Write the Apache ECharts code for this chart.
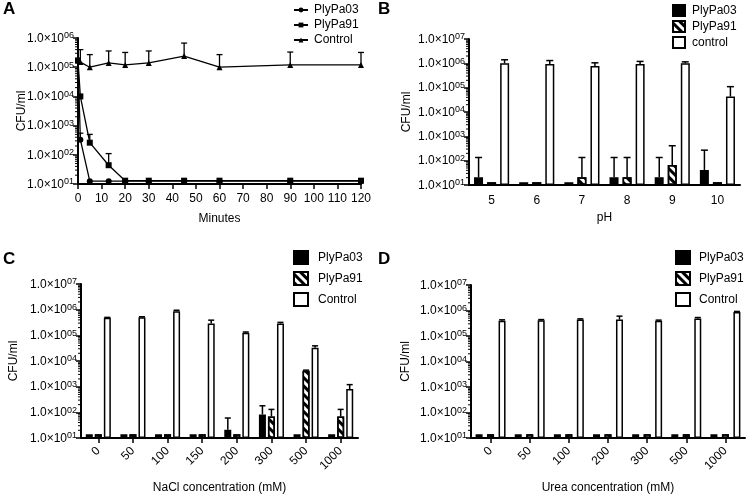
<!DOCTYPE html>
<html style="height: 100%">
<head>
    <meta charset="utf-8">
</head>
<body style="height: 100%; margin: 0; background: #fff">
    <div id="chartA" style="position:absolute; left:0; top:0; width:375px; height:250px"></div>
    <div id="chartB" style="position:absolute; left:375px; top:0; width:375px; height:250px"></div>
    <div id="chartC" style="position:absolute; left:0; top:250px; width:375px; height:249px"></div>
    <div id="chartD" style="position:absolute; left:375px; top:250px; width:375px; height:249px"></div>
    <script type="text/javascript" src="https://cdn.jsdelivr.net/npm/echarts@6/dist/echarts.min.js"></script>
    <script type="text/javascript">
        // A: time course
        var minutes = [0, 1, 5, 13, 20, 30, 45, 60, 90, 120];
        var aPlyPa03 = [1.7e5, 330, 12.5, 12.5, 12.5, 12.5, 12.5, 12.5, 12.5, 12.5];
        var aPlyPa03Err = [null, 550, null, null, null, null, null, null, null, null];
        var aPlyPa91 = [1.7e5, 1.0e4, 260, 44, 13, 13, 13, 13, 13, 13];
        var aPlyPa91Err = [null, null, 500, 110, null, null, null, null, null, null];
        var aControl = [1.7e5, 1.5e5, 1.0e5, 1.4e5, 1.2e5, 1.4e5, 2.4e5, 1.0e5, 1.2e5, 1.2e5];
        var aControlErr = [null, 4.0e5, 2.7e5, 3.6e5, 3.2e5, 3.6e5, 6.7e5, 2.7e5, 3.3e5, 3.2e5];

        // B: pH
        var phCats = ['5', '6', '7', '8', '9', '10'];
        var bPlyPa03 = [21, 13, 13, 21, 21, 41];
        var bPlyPa03Err = [135, null, null, 135, 135, 270];
        var bPlyPa91 = [13, 13, 21, 21, 66, 13];
        var bPlyPa91Err = [null, null, 135, 135, 410, null];
        var bControl = [1.0e6, 9.4e5, 7.7e5, 9.4e5, 1.0e6, 4.3e4];
        var bControlErr = [1.4e6, 1.3e6, 1.05e6, 1.2e6, 1.15e6, 1.1e5];

        // C: NaCl
        var naclCats = ['0', '50', '100', '150', '200', '300', '500', '1000'];
        var cPlyPa03 = [14, 14, 14, 14, 21, 83, 14, 14];
        var cPlyPa03Err = [null, null, null, null, 60, 180, null, null];
        var cPlyPa91 = [14, 14, 14, 14, 14, 69, 4200, 69];
        var cPlyPa91Err = [null, null, null, null, null, 130, 4400, 130];
        var cControl = [4.8e5, 5.1e5, 8.7e5, 2.9e5, 1.26e5, 2.9e5, 3.3e4, 810];
        var cControlErr = [5.0e5, 5.3e5, 9.5e5, 3.9e5, 1.35e5, 3.2e5, 3.9e4, 1200];

        // D: urea
        var ureaCats = ['0', '50', '100', '200', '300', '500', '1000'];
        var dPlyPa03 = [14, 14, 14, 14, 14, 14, 14];
        var dPlyPa91 = [14, 14, 14, 14, 14, 14, 14];
        var dControl = [4.0e5, 4.1e5, 4.4e5, 4.4e5, 4.0e5, 4.9e5, 8.7e5];
        var dControlErr = [4.3e5, 4.4e5, 4.7e5, 6.0e5, 4.2e5, 5.3e5, 9.2e5];

        var FONT = '"Liberation Sans", Arial, Helvetica, sans-serif';

        function expLabel(v) {
            var e = Math.round(Math.log(v) / Math.LN10);
            return '{m|1.0×10}{s|' + (e < 10 ? '0' : '') + e + '}';
        }

        var labelRich = {
            m: { fontSize: 12, fontFamily: FONT, color: '#000', lineHeight: 13, padding: [6, 0, 0, 0], verticalAlign: 'bottom' },
            s: { fontSize: 9, fontFamily: FONT, color: '#000', lineHeight: 10, verticalAlign: 'top' }
        };

        function minorValues(lo, hi) {
            var out = [];
            for (var e = lo; e < hi; e++) {
                for (var m = 2; m <= 9; m++) out.push([0, m * Math.pow(10, e)]);
            }
            return out;
        }

        function minorTickSeries(lo, hi) {
            return {
                type: 'custom',
                silent: true,
                data: minorValues(lo, hi),
                renderItem: function (params, api) {
                    var p = api.coord([api.value(0), api.value(1)]);
                    var x0 = params.coordSys.x;
                    return {
                        type: 'line',
                        shape: { x1: x0 - 3, y1: p[1], x2: x0, y2: p[1] },
                        style: { stroke: '#000', lineWidth: 1 }
                    };
                }
            };
        }

        function logAxis(maxVal, nameGap) {
            return {
                type: 'log',
                logBase: 10,
                min: 10,
                max: maxVal,
                interval: 1,
                startValue: 10,
                axisLine: { show: true, lineStyle: { color: '#000', width: 2 } },
                axisTick: { show: true, length: 5, lineStyle: { color: '#000', width: 1.5 } },
                splitLine: { show: false },
                axisLabel: { formatter: expLabel, rich: labelRich, margin: 4 },
                name: 'CFU/ml',
                nameLocation: 'middle',
                nameGap: nameGap,
                nameMoveOverlap: false,
                nameTextStyle: { fontSize: 12, fontFamily: FONT, color: '#000' }
            };
        }

        function panelTitle(letter) {
            return {
                text: letter, left: 3, top: 1, padding: 0,
                textStyle: { fontSize: 17, fontWeight: 'bold', fontFamily: FONT, color: '#000' }
            };
        }

        // upward error bars for the line chart
        function lineErrSeries(xs, vals, errs) {
            var d = [];
            for (var i = 0; i < xs.length; i++) {
                if (errs[i] != null) d.push([xs[i], vals[i], errs[i]]);
            }
            return {
                type: 'custom', silent: true, data: d, z: 1,
                renderItem: function (params, api) {
                    var a = api.coord([api.value(0), api.value(1)]);
                    var b = api.coord([api.value(0), api.value(2)]);
                    return {
                        type: 'group', children: [
                            { type: 'line', shape: { x1: a[0], y1: a[1], x2: a[0], y2: b[1] }, style: { stroke: '#000', lineWidth: 1.3 } },
                            { type: 'line', shape: { x1: a[0] - 3, y1: b[1], x2: a[0] + 3, y2: b[1] }, style: { stroke: '#000', lineWidth: 1.3 } }
                        ]
                    };
                }
            };
        }

        // upward error bars for grouped bars; slot -1/0/1, step in px
        function barErrSeries(vals, errs, slot, step, cap) {
            var d = [];
            for (var i = 0; i < vals.length; i++) {
                if (errs[i] != null) d.push([i, vals[i], errs[i]]);
            }
            return {
                type: 'custom', silent: true, data: d, z: 3,
                renderItem: function (params, api) {
                    var a = api.coord([api.value(0), api.value(1)]);
                    var b = api.coord([api.value(0), api.value(2)]);
                    var cx = a[0] + slot * step;
                    return {
                        type: 'group', children: [
                            { type: 'line', shape: { x1: cx, y1: a[1], x2: cx, y2: b[1] }, style: { stroke: '#000', lineWidth: 1.5 } },
                            { type: 'line', shape: { x1: cx - cap, y1: b[1], x2: cx + cap, y2: b[1] }, style: { stroke: '#000', lineWidth: 1.5 } }
                        ]
                    };
                }
            };
        }

        var hatch = {
            symbol: 'rect', symbolSize: 1, color: '#000',
            dashArrayX: [1, 0], dashArrayY: [2.5, 2.5], rotation: Math.PI / 4
        };

        function barSeries(name, vals, kind, width, gap) {
            var style = { color: '#fff', borderColor: '#000', borderWidth: 1.5 };
            if (kind === 'solid') style.color = '#000';
            if (kind === 'hatch') style.decal = hatch;
            return {
                type: 'bar', name: name, data: vals, barWidth: width, barGap: gap,
                itemStyle: style, z: 2
            };
        }

        function barLegend(names, left, top, gap, size, textPad) {
            return {
                orient: 'vertical', left: left, top: top, itemGap: gap, padding: 0,
                itemWidth: size, itemHeight: size - 1, icon: 'rect',
                textStyle: { fontSize: 12, fontFamily: FONT, color: '#000', padding: [0, 0, 0, textPad] },
                data: names
            };
        }

        function catAxis(cats, rotate, margin, name, nameGap, showTick) {
            return {
                type: 'category', data: cats,
                axisLine: { show: true, lineStyle: { color: '#000', width: 2 } },
                axisTick: { show: showTick, alignWithLabel: true, length: 5, lineStyle: { color: '#000', width: 1.5 } },
                axisLabel: { rotate: rotate, fontSize: 12, fontFamily: FONT, color: '#000', margin: margin },
                name: name, nameLocation: 'middle', nameGap: nameGap, nameMoveOverlap: false,
                nameTextStyle: { fontSize: 12, fontFamily: FONT, color: '#000' }
            };
        }

        function pairs(xs, ys) {
            return xs.map(function (x, i) { return [x, ys[i]]; });
        }

        // ---------- A ----------
        var chartA = echarts.init(document.getElementById('chartA'));
        var lineStyle = { color: '#000', width: 1.3 };
        chartA.setOption({
            animation: false,
            title: panelTitle('A'),
            legend: {
                orient: 'vertical', left: 293, top: 4, itemGap: 3, padding: 0,
                itemWidth: 14, itemHeight: 6,
                textStyle: { fontSize: 12, fontFamily: FONT, color: '#000', padding: [0, 0, 0, 1] },
                data: ['PlyPa03', 'PlyPa91', 'Control']
            },
            grid: { left: 78, top: 38, width: 283, height: 146 },
            xAxis: {
                type: 'value', min: 0, max: 120, interval: 10,
                axisLine: { show: true, onZero: false, lineStyle: { color: '#000', width: 2 } },
                axisTick: { show: true, length: 5, lineStyle: { color: '#000', width: 1.5 } },
                splitLine: { show: false },
                axisLabel: { fontSize: 12, fontFamily: FONT, color: '#000', margin: 9 },
                name: 'Minutes', nameLocation: 'middle', nameGap: 29, nameMoveOverlap: false,
                nameTextStyle: { fontSize: 12, fontFamily: FONT, color: '#000' }
            },
            yAxis: logAxis(1e6, 50),
            series: [
                { type: 'line', name: 'PlyPa03', data: pairs(minutes, aPlyPa03), symbol: 'circle', symbolSize: 6,
                  lineStyle: lineStyle, itemStyle: { color: '#000' }, z: 3 },
                { type: 'line', name: 'PlyPa91', data: pairs(minutes, aPlyPa91), symbol: 'rect', symbolSize: 6,
                  lineStyle: lineStyle, itemStyle: { color: '#000' }, z: 3 },
                { type: 'line', name: 'Control', data: pairs(minutes, aControl), symbol: 'triangle', symbolSize: 6,
                  lineStyle: lineStyle, itemStyle: { color: '#000' }, z: 3 },
                lineErrSeries(minutes, aPlyPa03, aPlyPa03Err),
                lineErrSeries(minutes, aPlyPa91, aPlyPa91Err),
                lineErrSeries(minutes, aControl, aControlErr),
                minorTickSeries(1, 6)
            ]
        });

        // ---------- B ----------
        var chartB = echarts.init(document.getElementById('chartB'));
        chartB.setOption({
            animation: false,
            title: panelTitle('B'),
            legend: barLegend(['PlyPa03', 'PlyPa91', 'control'], 297, 4, 3, 12, 2),
            grid: { left: 94, top: 39, width: 271, height: 146 },
            xAxis: catAxis(phCats, 0, 10, 'pH', 27, false),
            yAxis: logAxis(1e7, 56),
            series: [
                barSeries('PlyPa03', bPlyPa03, 'solid', 9, '45%'),
                barSeries('PlyPa91', bPlyPa91, 'hatch', 9, '45%'),
                barSeries('control', bControl, 'open', 9, '45%'),
                barErrSeries(bPlyPa03, bPlyPa03Err, -1, 13, 3.5),
                barErrSeries(bPlyPa91, bPlyPa91Err, 0, 13, 3.5),
                barErrSeries(bControl, bControlErr, 1, 13, 3.5),
                minorTickSeries(1, 7)
            ]
        });

        // ---------- C ----------
        var chartC = echarts.init(document.getElementById('chartC'));
        chartC.setOption({
            animation: false,
            title: panelTitle('C'),
            legend: barLegend(['PlyPa03', 'PlyPa91', 'Control'], 293, 0, 6, 14, 5),
            grid: { left: 80, top: 34, width: 278, height: 155 },
            xAxis: catAxis(naclCats, 45, 11, 'NaCl concentration (mM)', 44, true),
            yAxis: logAxis(1e7, 61),
            series: [
                barSeries('PlyPa03', cPlyPa03, 'solid', 7, '29%'),
                barSeries('PlyPa91', cPlyPa91, 'hatch', 7, '29%'),
                barSeries('Control', cControl, 'open', 7, '29%'),
                barErrSeries(cPlyPa03, cPlyPa03Err, -1, 9, 3),
                barErrSeries(cPlyPa91, cPlyPa91Err, 0, 9, 3),
                barErrSeries(cControl, cControlErr, 1, 9, 3),
                minorTickSeries(1, 7)
            ]
        });

        // ---------- D ----------
        var chartD = echarts.init(document.getElementById('chartD'));
        chartD.setOption({
            animation: false,
            title: panelTitle('D'),
            legend: barLegend(['PlyPa03', 'PlyPa91', 'Control'], 300, 0, 6, 14, 4),
            grid: { left: 96, top: 35, width: 274, height: 154 },
            xAxis: catAxis(ureaCats, 45, 11, 'Urea concentration (mM)', 44, true),
            yAxis: logAxis(1e7, 59),
            series: [
                barSeries('PlyPa03', dPlyPa03, 'solid', 7, '64%'),
                barSeries('PlyPa91', dPlyPa91, 'hatch', 7, '64%'),
                barSeries('Control', dControl, 'open', 7, '64%'),
                barErrSeries(dControl, dControlErr, 1, 11.5, 3),
                minorTickSeries(1, 7)
            ]
        });
    </script>
</body>
</html>
